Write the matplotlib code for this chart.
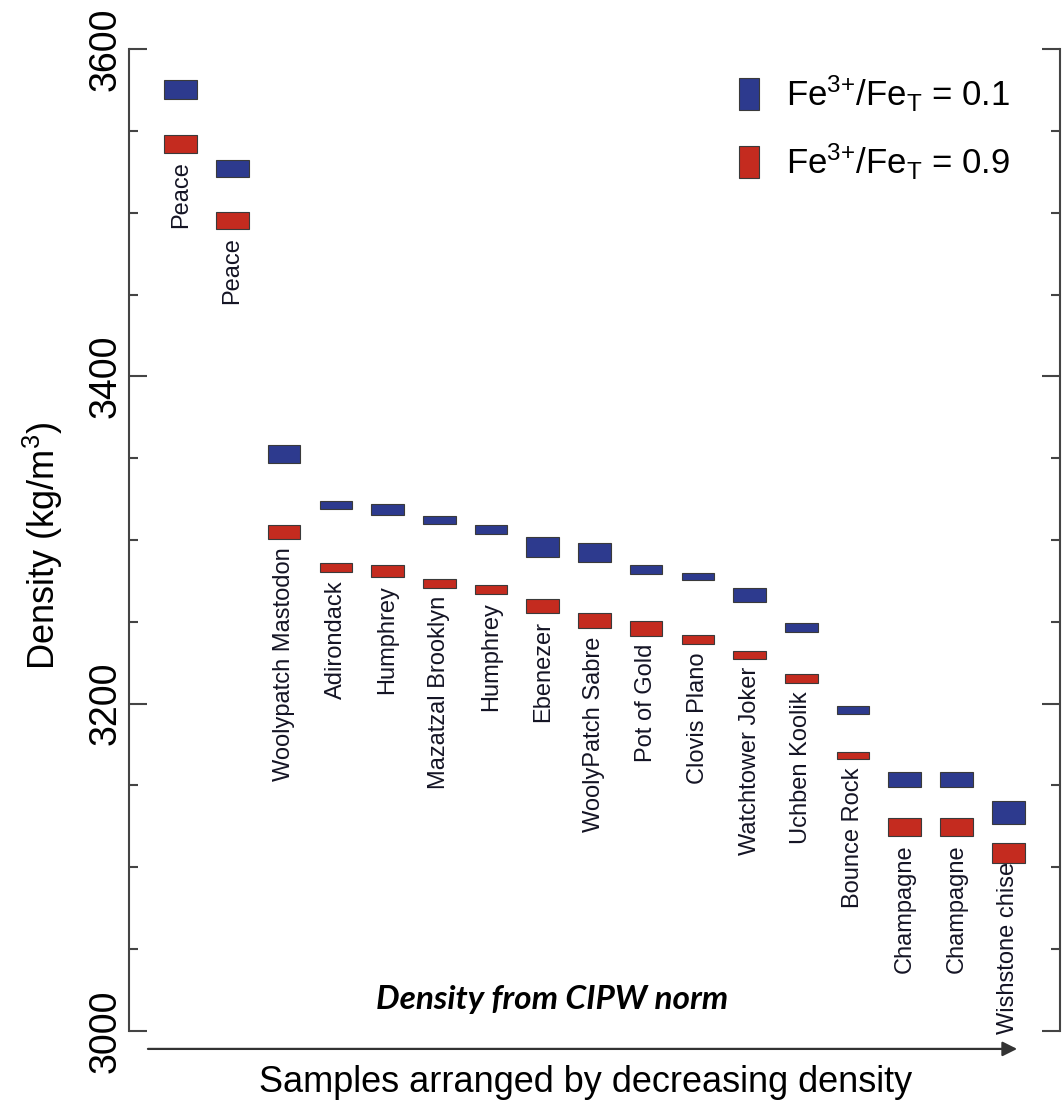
"""Density ranges from the CIPW norm for two Fe3+/FeT ratios."""

import matplotlib
matplotlib.use('Agg')
import matplotlib.pyplot as plt
from matplotlib.ticker import MultipleLocator
import numpy as np

plt.rcParams['font.family'] = ['Liberation Sans', 'DejaVu Sans']
plt.rcParams['mathtext.default'] = 'regular'

samples = ['Peace', 'Peace', 'Woolypatch Mastodon', 'Adirondack', 'Humphrey',
           'Mazatzal Brooklyn', 'Humphrey', 'Ebenezer', 'WoolyPatch Sabre',
           'Pot of Gold', 'Clovis Plano', 'Watchtower Joker', 'Uchben Koolik',
           'Bounce Rock', 'Champagne', 'Champagne', 'Wishstone chisel']

# density ranges (kg/m3), Fe3+/FeT = 0.1
blue_lo = [3569.5, 3521.8, 3347.0, 3318.9, 3315.3, 3309.8, 3303.7, 3289.6, 3286.6,
           3279.2, 3275.6, 3262.1, 3243.8, 3193.7, 3149.1, 3149.1, 3126.5]
blue_hi = [3581.1, 3532.2, 3358.0, 3323.8, 3322.0, 3314.7, 3309.2, 3301.8, 3298.2,
           3284.7, 3279.8, 3270.7, 3249.3, 3198.6, 3158.3, 3158.3, 3140.5]
# density ranges (kg/m3), Fe3+/FeT = 0.9
red_lo = [3536.5, 3490.0, 3300.6, 3280.5, 3277.4, 3270.7, 3267.0, 3255.4, 3246.2,
          3241.4, 3236.5, 3227.4, 3212.6, 3166.2, 3119.2, 3119.2, 3102.7]
red_hi = [3547.5, 3500.4, 3309.2, 3285.9, 3284.7, 3276.2, 3272.5, 3263.9, 3255.4,
          3250.5, 3242.0, 3232.3, 3218.1, 3170.5, 3130.2, 3130.2, 3114.9]

BLUE = '#2d3a8e'
RED = '#c42b1f'
EDGE = '#3a3a3a'

fig = plt.figure(figsize=(10.64, 11.07), dpi=100)
ax = fig.add_axes([0.1212, 0.0687, 0.8750, 0.8870])

x = np.arange(len(samples))
blue_lo, blue_hi = np.array(blue_lo), np.array(blue_hi)
red_lo, red_hi = np.array(red_lo), np.array(red_hi)

ax.bar(x, blue_hi - blue_lo, bottom=blue_lo, width=0.63, color=BLUE,
       edgecolor=EDGE, linewidth=0.8, zorder=3, label=r'Fe$^{3{+}}$/Fe$_{T}$ = 0.1')
ax.bar(x, red_hi - red_lo, bottom=red_lo, width=0.63, color=RED,
       edgecolor=EDGE, linewidth=0.8, zorder=3, label=r'Fe$^{3{+}}$/Fe$_{T}$ = 0.9')

ax.set_xlim(-1, 17)
ax.set_ylim(3000, 3600)
ax.set_xticks([])
ax.yaxis.set_major_locator(MultipleLocator(200))
ax.yaxis.set_minor_locator(MultipleLocator(50))
ax.tick_params(axis='y', which='both', direction='in', left=True, right=True,
               color='#444444', width=1.5, labelsize=27, pad=4, labelrotation=90)
ax.tick_params(axis='y', which='major', length=13)
ax.tick_params(axis='y', which='minor', length=6.5)
for lab in ax.get_yticklabels():
    lab.set_va('center')

for side in ('top', 'bottom'):
    ax.spines[side].set_visible(False)
for side in ('left', 'right'):
    ax.spines[side].set_color('#444444')
    ax.spines[side].set_linewidth(1.5)

# sample names hang below the red bar; keep them inside the axes
fig.canvas.draw()
renderer = fig.canvas.get_renderer()
ax_bottom = ax.get_window_extent(renderer).y0
for xi, name, lo in zip(x, samples, red_lo):
    t = ax.text(xi, lo - 5, name, rotation=90, ha='center', va='top',
                fontsize=17, color='#141424', zorder=1)
    if t.get_window_extent(renderer).y0 < ax_bottom:
        t.set_y(2998)
        t.set_va('bottom')

leg = ax.legend(loc='upper left', bbox_to_anchor=(0.655, 0.975), frameon=False,
                fontsize=25, handlelength=0.57, handleheight=1.03,
                handletextpad=0.8, labelspacing=0.8, borderpad=0,
                borderaxespad=0)

ax.text(0.454, 0.0316, 'Density from CIPW norm', transform=ax.transAxes,
        ha='center', va='center', fontsize=24, fontweight='bold',
        fontstyle='italic', family=['Lato', 'DejaVu Sans'])

ax.annotate('', xy=(0.954, -0.0183), xytext=(0.0204, -0.0183),
            xycoords='axes fraction', textcoords='axes fraction',
            arrowprops=dict(arrowstyle='-|>', color='#333333', lw=1.6,
                            mutation_scale=22, shrinkA=0, shrinkB=0),
            annotation_clip=False)

ax.text(0.49, -0.052, 'Samples arranged by decreasing density',
        transform=ax.transAxes, ha='center', va='center', fontsize=26)
fig.text(43 / 1064, 1 - 546 / 1107, 'Density (kg/m$^3$)', rotation=90,
         ha='center', va='center', fontsize=26)

fig.savefig('out.png', dpi=100)
